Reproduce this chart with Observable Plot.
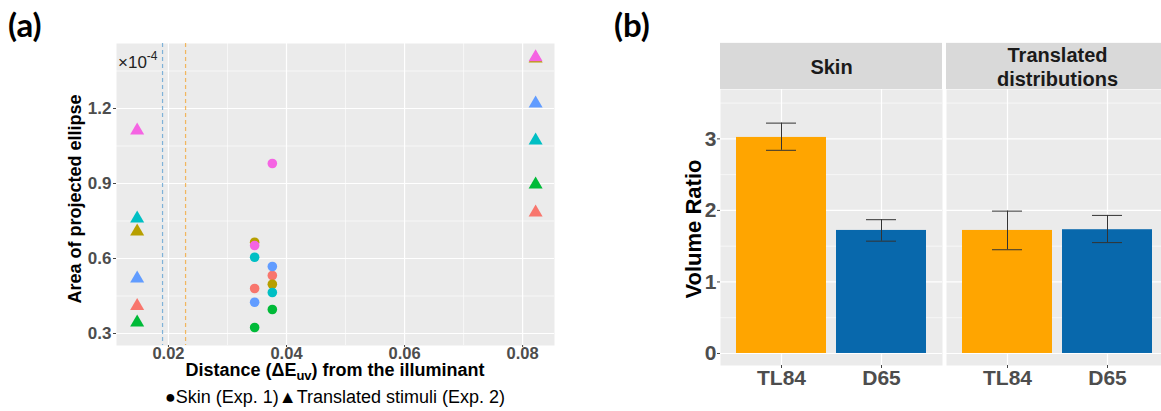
<!DOCTYPE html>
<html><head><meta charset="utf-8">
<script src="https://cdn.jsdelivr.net/npm/d3@7"></script>
<script src="https://cdn.jsdelivr.net/npm/@observablehq/plot@0.6"></script>
<style>
body{margin:0;width:1161px;height:411px;overflow:hidden;background:#fff;position:relative;font-family:"Liberation Sans",Arial,sans-serif;}
.tag{position:absolute;font-family:Lato,"Open Sans",sans-serif;font-weight:700;font-size:33px;top:8px;line-height:1;}
#a{position:absolute;left:0;top:0;width:580px;height:411px;}
#b{position:absolute;left:620px;top:0;width:550px;height:411px;}
svg text{font-family:"Liberation Sans",Arial,sans-serif;}
</style></head><body>
<div class="tag" style="left:8px">(a)</div>
<div class="tag" style="left:614px">(b)</div>
<div id="a"></div><div id="b"></div>
<script>
// ---------- Panel (a) data ----------
const groups = ["1","2","3","4","5","6"];
const groupColors = ["#F8766D","#B79F00","#00BA38","#00BFC4","#619CFF","#F564E3"];
const skinDistances = [0.0346, 0.0376];
const skinAreaNear = [0.480, 0.665, 0.324, 0.605, 0.425, 0.652];
const skinAreaFar  = [0.532, 0.497, 0.396, 0.464, 0.568, 0.980];
const translatedDistances = [0.0147, 0.0822];
const translatedAreaNear = [0.410, 0.708, 0.344, 0.760, 0.520, 1.112];
const translatedAreaFar  = [0.784, 1.400, 0.896, 1.072, 1.220, 1.405];
const thresholds = [0.0190, 0.0229];
const thresholdColors = ["#7fb2d8", "#f2a93b"];
const xTicksA = [0.02, 0.04, 0.06, 0.08];
const xMinorA = [0.03, 0.05, 0.07];
const yTicksA = [0.3, 0.6, 0.9, 1.2];
const yMinorA = [0.45, 0.75, 1.05, 1.35];

// ---------- Panel (b) data ----------
const panels = ["Skin", "Translated distributions"];
const panelLabels = ["Skin", "Translated\ndistributions"];
const illuminants = ["TL84", "D65"];
const barColors = ["#FFA500", "#0868AC"];
const volumeRatio = [[3.02, 1.72], [1.72, 1.73]];
const ratioLower  = [[2.84, 1.57], [1.45, 1.55]];
const ratioUpper  = [[3.22, 1.87], [1.99, 1.93]];
const yTicksB = [0, 1, 2, 3];
const yMinorB = [0.5, 1.5, 2.5, 3.5];

// build rows
const skinRows = [], transRows = [];
groups.forEach((g, i) => {
  skinRows.push({group: g, x: skinDistances[0], y: skinAreaNear[i]});
  skinRows.push({group: g, x: skinDistances[1], y: skinAreaFar[i]});
  transRows.push({group: g, x: translatedDistances[0], y: translatedAreaNear[i]});
  transRows.push({group: g, x: translatedDistances[1], y: translatedAreaFar[i]});
});
const barRows = [];
panels.forEach((p, i) => illuminants.forEach((il, j) => barRows.push({
  panel: p, illum: il, v: volumeRatio[i][j], lo: ratioLower[i][j], hi: ratioUpper[i][j]
})));

const font = "Liberation Sans, Arial, sans-serif";

// ---------- Panel (a) ----------
const plotA = Plot.plot({
  width: 580, height: 411,
  marginLeft: 116, marginRight: 26, marginTop: 43, marginBottom: 66,
  style: {fontFamily: font, background: "transparent", maxWidth: "none", overflow: "visible"},
  x: {domain: [0.0112, 0.0854]},
  y: {domain: [0.252, 1.46]},
  color: {domain: groups, range: groupColors},
  marks: [
    Plot.frame({fill: "#ebebeb", stroke: null}),
    Plot.ruleX(xMinorA, {stroke: "#fff", strokeWidth: 0.6}),
    Plot.ruleY(yMinorA, {stroke: "#fff", strokeWidth: 0.6}),
    Plot.ruleX(xTicksA, {stroke: "#fff", strokeWidth: 1.2}),
    Plot.ruleY(yTicksA, {stroke: "#fff", strokeWidth: 1.2}),
    Plot.ruleX([thresholds[0]], {stroke: thresholdColors[0], strokeWidth: 1.2, strokeDasharray: "4,3"}),
    Plot.ruleX([thresholds[1]], {stroke: thresholdColors[1], strokeWidth: 1.2, strokeOpacity: 0.8, strokeDasharray: "4,3"}),
    Plot.dot(skinRows, {x: "x", y: "y", fill: "group", r: 4.8, symbol: "circle"}),
    Plot.dot(transRows, {x: "x", y: "y", fill: "group", r: 5.2, symbol: "triangle"}),
    Plot.axisX({ticks: xTicksA, tickFormat: d => d.toFixed(2), tickSize: 2, tickPadding: 0,
      fontSize: 16.5, fontWeight: "bold", fill: "#4d4d4d", stroke: "#444", label: null}),
    Plot.axisY({ticks: yTicksA, tickFormat: d => d.toFixed(1), tickSize: 3, tickPadding: 2,
      fontSize: 17, fontWeight: "bold", fill: "#4d4d4d", stroke: "#444", label: null})
  ]
});
document.getElementById("a").appendChild(plotA);
{
  const s = d3.select(plotA);
  const cx = (116 + 554) / 2;
  // multiplier
  const m = s.append("text").attr("x", 118).attr("y", 68).attr("text-anchor", "start")
    .attr("font-size", 17).attr("fill", "#222");
  m.append("tspan").text("×10");
  m.append("tspan").attr("dy", -8).attr("font-size", 12).text("-4");
  // x label
  const xl = s.append("text").attr("x", cx).attr("y", 376).attr("text-anchor", "middle")
    .attr("font-size", 18).attr("font-weight", "bold").attr("fill", "#000");
  xl.append("tspan").text("Distance (ΔE");
  xl.append("tspan").attr("dy", 4).attr("font-size", 13).text("uv");
  xl.append("tspan").attr("dy", -4).text(") from the illuminant");
  // y label
  s.append("text").attr("transform", "translate(81,199) rotate(-90)").attr("text-anchor", "middle")
    .attr("font-size", 18).attr("font-weight", "bold").attr("fill", "#000").text("Area of projected ellipse");
  // legend
  s.append("text").attr("x", cx).attr("y", 403).attr("text-anchor", "middle")
    .attr("font-size", 18).attr("fill", "#000").text("●Skin (Exp. 1)▲Translated stimuli (Exp. 2)");
}

// ---------- Panel (b) ----------
const plotB = Plot.plot({
  width: 550, height: 411,
  marginLeft: 100, marginRight: 2, marginTop: 89, marginBottom: 46,
  style: {fontFamily: font, background: "transparent", maxWidth: "none", overflow: "visible"},
  fx: {domain: panels, paddingInner: 4 / 226, paddingOuter: 0, axis: null},
  x: {domain: illuminants, paddingInner: 0.1, paddingOuter: 0.15},
  y: {domain: [-0.168, 3.69]},
  color: {domain: illuminants, range: barColors},
  marks: [
    Plot.frame({fill: "#ebebeb", stroke: null}),
    Plot.rect(panels, {fx: d => d, y1: 3.69, y2: 4.335, fill: "#d9d9d9"}),
    Plot.text(panels, {fx: d => d, y: 4.012, text: (d, i) => panelLabels[i], fontSize: 20,
      fontWeight: "bold", fill: "#1a1a1a", lineHeight: 1.2}),
    Plot.ruleY(yMinorB, {stroke: "#fff", strokeWidth: 0.6}),
    Plot.ruleY(yTicksB, {stroke: "#fff", strokeWidth: 1.2}),
    Plot.gridX({stroke: "#fff", strokeOpacity: 1, strokeWidth: 1.2}),
    Plot.barY(barRows, {fx: "panel", x: "illum", y: "v", fill: "illum"}),
    Plot.ruleX(barRows, {fx: "panel", x: "illum", y1: "lo", y2: "hi", stroke: "#333", strokeWidth: 1}),
    Plot.tickY(barRows, {fx: "panel", x: "illum", y: "lo", stroke: "#333", strokeWidth: 1, insetLeft: 30, insetRight: 30}),
    Plot.tickY(barRows, {fx: "panel", x: "illum", y: "hi", stroke: "#333", strokeWidth: 1, insetLeft: 30, insetRight: 30}),
    Plot.axisX({tickSize: 3, tickPadding: 2, fontSize: 21, fontWeight: "bold", fill: "#4d4d4d", stroke: "#444", label: null}),
    Plot.axisY({ticks: yTicksB, tickFormat: d => String(d), tickSize: 3, tickPadding: 1, fontSize: 21, fontWeight: "bold", fill: "#4d4d4d", stroke: "#444", label: null})
  ]
});
document.getElementById("b").appendChild(plotB);
{
  const s = d3.select(plotB);
  s.append("text").attr("transform", "translate(81,229) rotate(-90)").attr("text-anchor", "middle")
    .attr("font-size", 22).attr("font-weight", "bold").attr("fill", "#000").text("Volume Ratio");
}
</script>
</body></html>
